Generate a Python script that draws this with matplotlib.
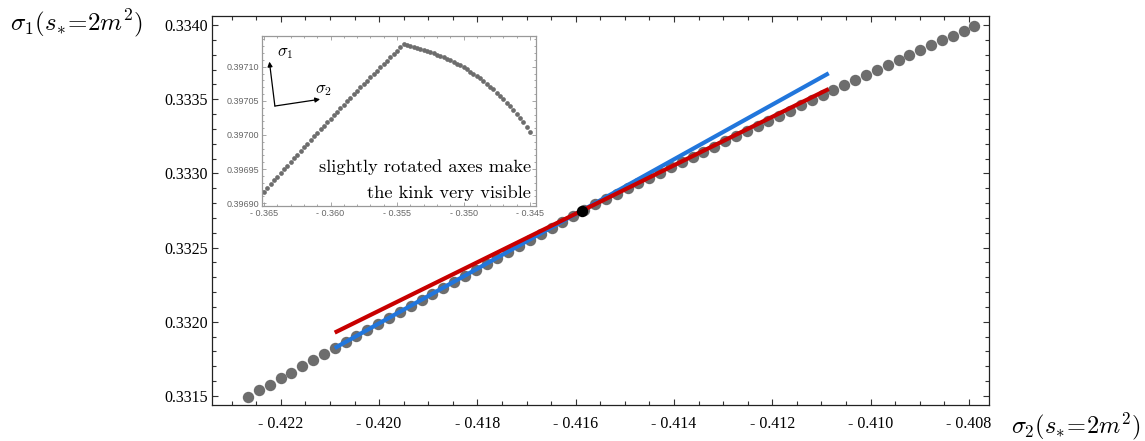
import matplotlib
matplotlib.use("Agg")
import matplotlib.pyplot as plt
from matplotlib.ticker import MultipleLocator, FixedLocator

plt.rcParams['mathtext.fontset'] = 'cm'

# ---------------- main data (sigma2, sigma1) ----------------
sigma2 = [-0.422667, -0.422446, -0.422226, -0.422005, -0.421785, -0.421564, -0.421343,
          -0.421123, -0.420902, -0.420682, -0.420461, -0.420240, -0.420020, -0.419799,
          -0.419579, -0.419358, -0.419137, -0.418917, -0.418696, -0.418476, -0.418255,
          -0.418034, -0.417814, -0.417593, -0.417373, -0.417152, -0.416931, -0.416711,
          -0.416490, -0.416270, -0.416049, -0.415828, -0.415608, -0.415387, -0.415167,
          -0.414946, -0.414725, -0.414505, -0.414284, -0.414064, -0.413843, -0.413622,
          -0.413402, -0.413181, -0.412961, -0.412740, -0.412519, -0.412299, -0.412078,
          -0.411858, -0.411637, -0.411416, -0.411196, -0.410975, -0.410755, -0.410534,
          -0.410313, -0.410093, -0.409872, -0.409652, -0.409431, -0.409210, -0.408990,
          -0.408769, -0.408549, -0.408328, -0.408107, -0.407887]
sigma1 = [0.331496, 0.331537, 0.331577, 0.331618, 0.331658, 0.331699, 0.331740,
          0.331780, 0.331821, 0.331862, 0.331902, 0.331943, 0.331984, 0.332024,
          0.332065, 0.332106, 0.332146, 0.332187, 0.332228, 0.332268, 0.332309,
          0.332350, 0.332390, 0.332431, 0.332472, 0.332512, 0.332553, 0.332594,
          0.332634, 0.332675, 0.332716, 0.332755, 0.332791, 0.332827, 0.332863,
          0.332899, 0.332934, 0.332970, 0.333005, 0.333040, 0.333076, 0.333111,
          0.333146, 0.333181, 0.333216, 0.333251, 0.333286, 0.333320, 0.333355,
          0.333389, 0.333424, 0.333458, 0.333492, 0.333527, 0.333560, 0.333594,
          0.333628, 0.333662, 0.333696, 0.333729, 0.333763, 0.333797, 0.333830,
          0.333863, 0.333896, 0.333929, 0.333962, 0.333995]

kink_x = [-0.415878]
kink_y = [0.332747]

blue_x = [-0.420903, -0.410852]
blue_y = [0.331823, 0.333675]
red_x = [-0.420903, -0.410852]
red_y = [0.331927, 0.333569]

xticks = [-0.422, -0.420, -0.418, -0.416, -0.414, -0.412, -0.410, -0.408]
xticklabels = ["- 0.422", "- 0.420", "- 0.418", "- 0.416", "- 0.414", "- 0.412", "- 0.410", "- 0.408"]
yticks = [0.3315, 0.3320, 0.3325, 0.3330, 0.3335, 0.3340]
yticklabels = ["0.3315", "0.3320", "0.3325", "0.3330", "0.3335", "0.3340"]

# ---------------- inset data (rotated axes) ----------------
inset_x = [-0.36500, -0.36475, -0.36450, -0.36425, -0.36400, -0.36375, -0.36350, -0.36325,
           -0.36300, -0.36275, -0.36250, -0.36225, -0.36200, -0.36175, -0.36150, -0.36125,
           -0.36100, -0.36075, -0.36050, -0.36025, -0.36000, -0.35975, -0.35950, -0.35925,
           -0.35900, -0.35875, -0.35850, -0.35825, -0.35800, -0.35775, -0.35750, -0.35725,
           -0.35700, -0.35675, -0.35650, -0.35625, -0.35600, -0.35575, -0.35550, -0.35525,
           -0.35500, -0.35475, -0.35450, -0.35425, -0.35400, -0.35375, -0.35350, -0.35325,
           -0.35300, -0.35275, -0.35250, -0.35225, -0.35200, -0.35175, -0.35150, -0.35125,
           -0.35100, -0.35075, -0.35050, -0.35025, -0.35000, -0.34975, -0.34950, -0.34925,
           -0.34900, -0.34875, -0.34850, -0.34825, -0.34800, -0.34775, -0.34750, -0.34725,
           -0.34700, -0.34675, -0.34650, -0.34625, -0.34600, -0.34575, -0.34550, -0.34525,
           -0.34500]
inset_y = [0.3969170, 0.3969225, 0.3969280, 0.3969335, 0.3969390, 0.3969445, 0.3969499,
           0.3969553, 0.3969607, 0.3969661, 0.3969714, 0.3969768, 0.3969821, 0.3969874,
           0.3969927, 0.3969979, 0.3970032, 0.3970084, 0.3970136, 0.3970188, 0.3970240,
           0.3970291, 0.3970343, 0.3970394, 0.3970445, 0.3970495, 0.3970546, 0.3970596,
           0.3970647, 0.3970697, 0.3970746, 0.3970796, 0.3970846, 0.3970895, 0.3970944,
           0.3970993, 0.3971042, 0.3971090, 0.3971138, 0.3971187, 0.3971235, 0.3971282,
           0.3971330, 0.3971317, 0.3971304, 0.3971291, 0.3971276, 0.3971262, 0.3971246,
           0.3971230, 0.3971214, 0.3971196, 0.3971177, 0.3971158, 0.3971137, 0.3971116,
           0.3971093, 0.3971069, 0.3971044, 0.3971018, 0.3970990, 0.3970961, 0.3970930,
           0.3970897, 0.3970863, 0.3970828, 0.3970790, 0.3970751, 0.3970710, 0.3970667,
           0.3970622, 0.3970575, 0.3970526, 0.3970475, 0.3970421, 0.3970365, 0.3970307,
           0.3970247, 0.3970184, 0.3970118, 0.3970050]
inset_xticks = [-0.365, -0.360, -0.355, -0.350, -0.345]
inset_xticklabels = ["- 0.365", "- 0.360", "- 0.355", "- 0.350", "- 0.345"]
inset_yticks = [0.39690, 0.39695, 0.39700, 0.39705, 0.39710]
inset_yticklabels = ["0.39690", "0.39695", "0.39700", "0.39705", "0.39710"]

W, H = 1145, 441
fig = plt.figure(figsize=(W / 100, H / 100), dpi=100)

def frac_box(l, t, r, b):
    return [l / W, 1 - b / H, (r - l) / W, (b - t) / H]

ax = fig.add_axes(frac_box(211.7, 16, 988.7, 405))
ax.set_xlim(-0.423406, -0.407597)
ax.set_ylim(0.331439, 0.334061)

ax.plot(sigma2, sigma1, 'o', color='#6d6d6d', markersize=8.2, markeredgewidth=0, zorder=2)
ax.plot(blue_x, blue_y, '-', color='#2176dc', linewidth=3.0, solid_capstyle='butt', zorder=3)
ax.plot(red_x, red_y, '-', color='#c80000', linewidth=3.0, solid_capstyle='butt', zorder=4)
ax.plot(kink_x, kink_y, 'o', color='black', markersize=8.2, markeredgewidth=0, zorder=5)

ax.xaxis.set_major_locator(FixedLocator(xticks))
ax.set_xticklabels(xticklabels)
ax.yaxis.set_major_locator(FixedLocator(yticks))
ax.set_yticklabels(yticklabels)
ax.xaxis.set_minor_locator(MultipleLocator(0.0005))
ax.yaxis.set_minor_locator(MultipleLocator(0.0001))
ax.tick_params(which='both', direction='in', top=True, right=True, width=0.8, color='#333333')
ax.tick_params(which='major', length=4.5)
ax.tick_params(which='minor', length=2.8)
ax.tick_params(axis='x', which='major', pad=8)
ax.tick_params(axis='y', which='major', pad=3)
for lab in ax.get_xticklabels() + ax.get_yticklabels():
    lab.set_fontfamily('Liberation Serif')
    lab.set_fontsize(11.5)
for s in ax.spines.values():
    s.set_linewidth(0.9)
    s.set_color('#222222')

fig.text(10 / W, 1 - 23 / H, r'$\sigma_1(s_{*}\!=\!2m^2)$', fontsize=18, ha='left', va='center')
fig.text(1140 / W, 1 - 426 / H, r'$\sigma_2(s_{*}\!=\!2m^2)$', fontsize=17.5, ha='right', va='center')

# ---------------- inset ----------------
ins = fig.add_axes(frac_box(262, 36, 536, 206))
ins.set_xlim(-0.36515, -0.34455)
ins.set_ylim(0.396896, 0.397145)
ins.plot(inset_x, inset_y, 'o', color='#6d6d6d', markersize=3.4, markeredgewidth=0)
ins.xaxis.set_major_locator(FixedLocator(inset_xticks))
ins.set_xticklabels(inset_xticklabels)
ins.yaxis.set_major_locator(FixedLocator(inset_yticks))
ins.set_yticklabels(inset_yticklabels)
ins.xaxis.set_minor_locator(MultipleLocator(0.001))
ins.yaxis.set_minor_locator(MultipleLocator(0.00001))
ins.tick_params(which='both', direction='in', top=True, right=True, width=0.6,
                color='#999999', labelcolor='#666666', labelsize=6.5)
ins.tick_params(which='major', length=3)
ins.tick_params(which='minor', length=1.6)
ins.tick_params(axis='x', pad=2)
ins.tick_params(axis='y', pad=2)
for lab in ins.get_xticklabels() + ins.get_yticklabels():
    lab.set_fontfamily('Liberation Sans')
for s in ins.spines.values():
    s.set_linewidth(0.9)
    s.set_color('#999999')

ins.annotate('', xy=(0.027, 0.849), xytext=(0.047, 0.588), xycoords='axes fraction',
             arrowprops=dict(arrowstyle='-|>', color='black', lw=0.9, mutation_scale=7,
                             shrinkA=0, shrinkB=0))
ins.annotate('', xy=(0.212, 0.628), xytext=(0.047, 0.588), xycoords='axes fraction',
             arrowprops=dict(arrowstyle='-|>', color='black', lw=0.9, mutation_scale=7,
                             shrinkA=0, shrinkB=0))
ins.text(0.084, 0.905, r'$\sigma_1$', transform=ins.transAxes, fontsize=12, ha='center', va='center')
ins.text(0.223, 0.690, r'$\sigma_2$', transform=ins.transAxes, fontsize=12, ha='center', va='center')
ins.text(0.982, 0.202, 'slightly rotated axes make', transform=ins.transAxes, fontsize=13.3,
         family='cmr10', ha='right', va='baseline')
ins.text(0.982, 0.045, 'the kink very visible', transform=ins.transAxes, fontsize=13.3,
         family='cmr10', ha='right', va='baseline')

fig.savefig('out.png', dpi=100)
